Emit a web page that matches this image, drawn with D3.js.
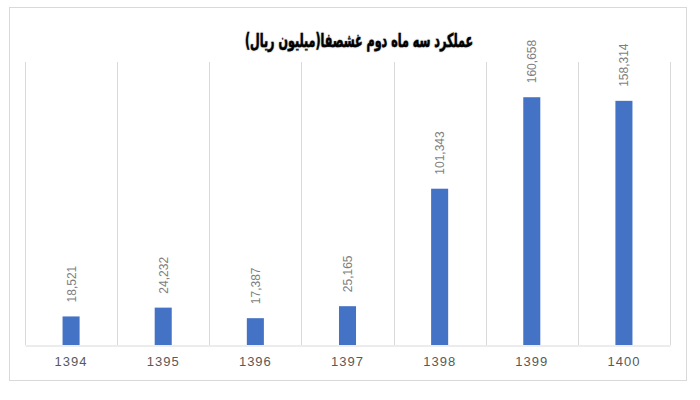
<!DOCTYPE html>
<html>
<head>
<meta charset="utf-8">
<script src="https://cdn.jsdelivr.net/npm/d3@7"></script>
<style>
  body { margin: 0; background: #fff; }
</style>
</head>
<body>
<div id="chart-area"></div>
<script>
const years = ["1394", "1395", "1396", "1397", "1398", "1399", "1400"];
const values = [18521, 24232, 17387, 25165, 101343, 160658, 158314];
const chartTitle = "عملکرد سه ماه دوم غشصفا(میلیون ریال)";

function drawChart() {
    const width = 700, height = 400;
    const plot = { left: 25, right: 670, top: 62, bottom: 345 };

    const svg = d3.select("#chart-area")
        .append("svg")
        .attr("width", width)
        .attr("height", height);

    // outer chart border
    svg.append("rect")
        .attr("x", 9.5)
        .attr("y", 7.5)
        .attr("width", 677)
        .attr("height", 373)
        .attr("fill", "#fff")
        .attr("stroke", "#d9d9d9");

    const xScale = d3.scaleBand()
        .domain(years)
        .range([plot.left, plot.right])
        .paddingInner(0.815)
        .paddingOuter(0.4075);
    const bandScale = d3.scaleBand()
        .domain(years)
        .range([plot.left, plot.right]);
    const yScale = d3.scaleLinear()
        .domain([0, 183500])
        .range([plot.bottom, plot.top]);

    // vertical category separators
    const seps = years.map((y) => bandScale(y)).concat([plot.right]);
    svg.selectAll(".sep")
        .data(seps)
        .enter()
        .append("line")
        .attr("class", "sep")
        .attr("x1", (d) => Math.round(d) + 0.5)
        .attr("x2", (d) => Math.round(d) + 0.5)
        .attr("y1", plot.top)
        .attr("y2", plot.bottom)
        .attr("stroke", "#d9d9d9");

    const xAxisCall = d3.axisBottom(bandScale).tickSize(0).tickPadding(11);
    const xAxis = svg.append("g")
        .attr("class", "x axis")
        .attr("transform", "translate(0," + (plot.bottom + 0.5) + ")")
        .call(xAxisCall);
    xAxis.select(".domain").attr("stroke", "#d9d9d9");
    xAxis.selectAll("text")
        .attr("fill", "#595959")
        .attr("font-family", "Arial, 'Liberation Sans', sans-serif")
        .attr("font-size", "13px")
        .attr("letter-spacing", "1px");

    svg.selectAll(".bar")
        .data(values)
        .enter()
        .append("rect")
        .attr("class", "bar")
        .attr("x", (d, i) => xScale(years[i]))
        .attr("width", xScale.bandwidth())
        .attr("y", (d) => yScale(d))
        .attr("height", (d) => plot.bottom - yScale(d))
        .attr("fill", "#4472c4");

    svg.selectAll(".value-label")
        .data(values)
        .enter()
        .append("text")
        .attr("class", "value-label")
        .attr("transform", (d, i) => {
            const x = xScale(years[i]) + xScale.bandwidth() / 2 + 4.5;
            const y = yScale(d) - 14;
            return "translate(" + x + "," + y + ") rotate(-90)";
        })
        .attr("fill", "#7f7f7f")
        .attr("font-family", "Arial, 'Liberation Sans', sans-serif")
        .attr("font-size", "12px")
        .text((d) => d3.format(",")(d));

    svg.append("text")
        .attr("x", 359)
        .attr("y", 47)
        .attr("text-anchor", "middle")
        .attr("direction", "rtl")
        .attr("font-family", "'DejaVu Sans', sans-serif")
        .attr("font-weight", "bold")
        .attr("font-size", "19px")
        .attr("textLength", 228)
        .attr("lengthAdjust", "spacingAndGlyphs")
        .attr("fill", "#000")
        .attr("stroke", "#000")
        .attr("stroke-width", 0.4)
        .style("text-shadow", "0 0 2px rgba(0,0,0,0.4)")
        .text(chartTitle);
}

drawChart();
</script>
</body>
</html>
